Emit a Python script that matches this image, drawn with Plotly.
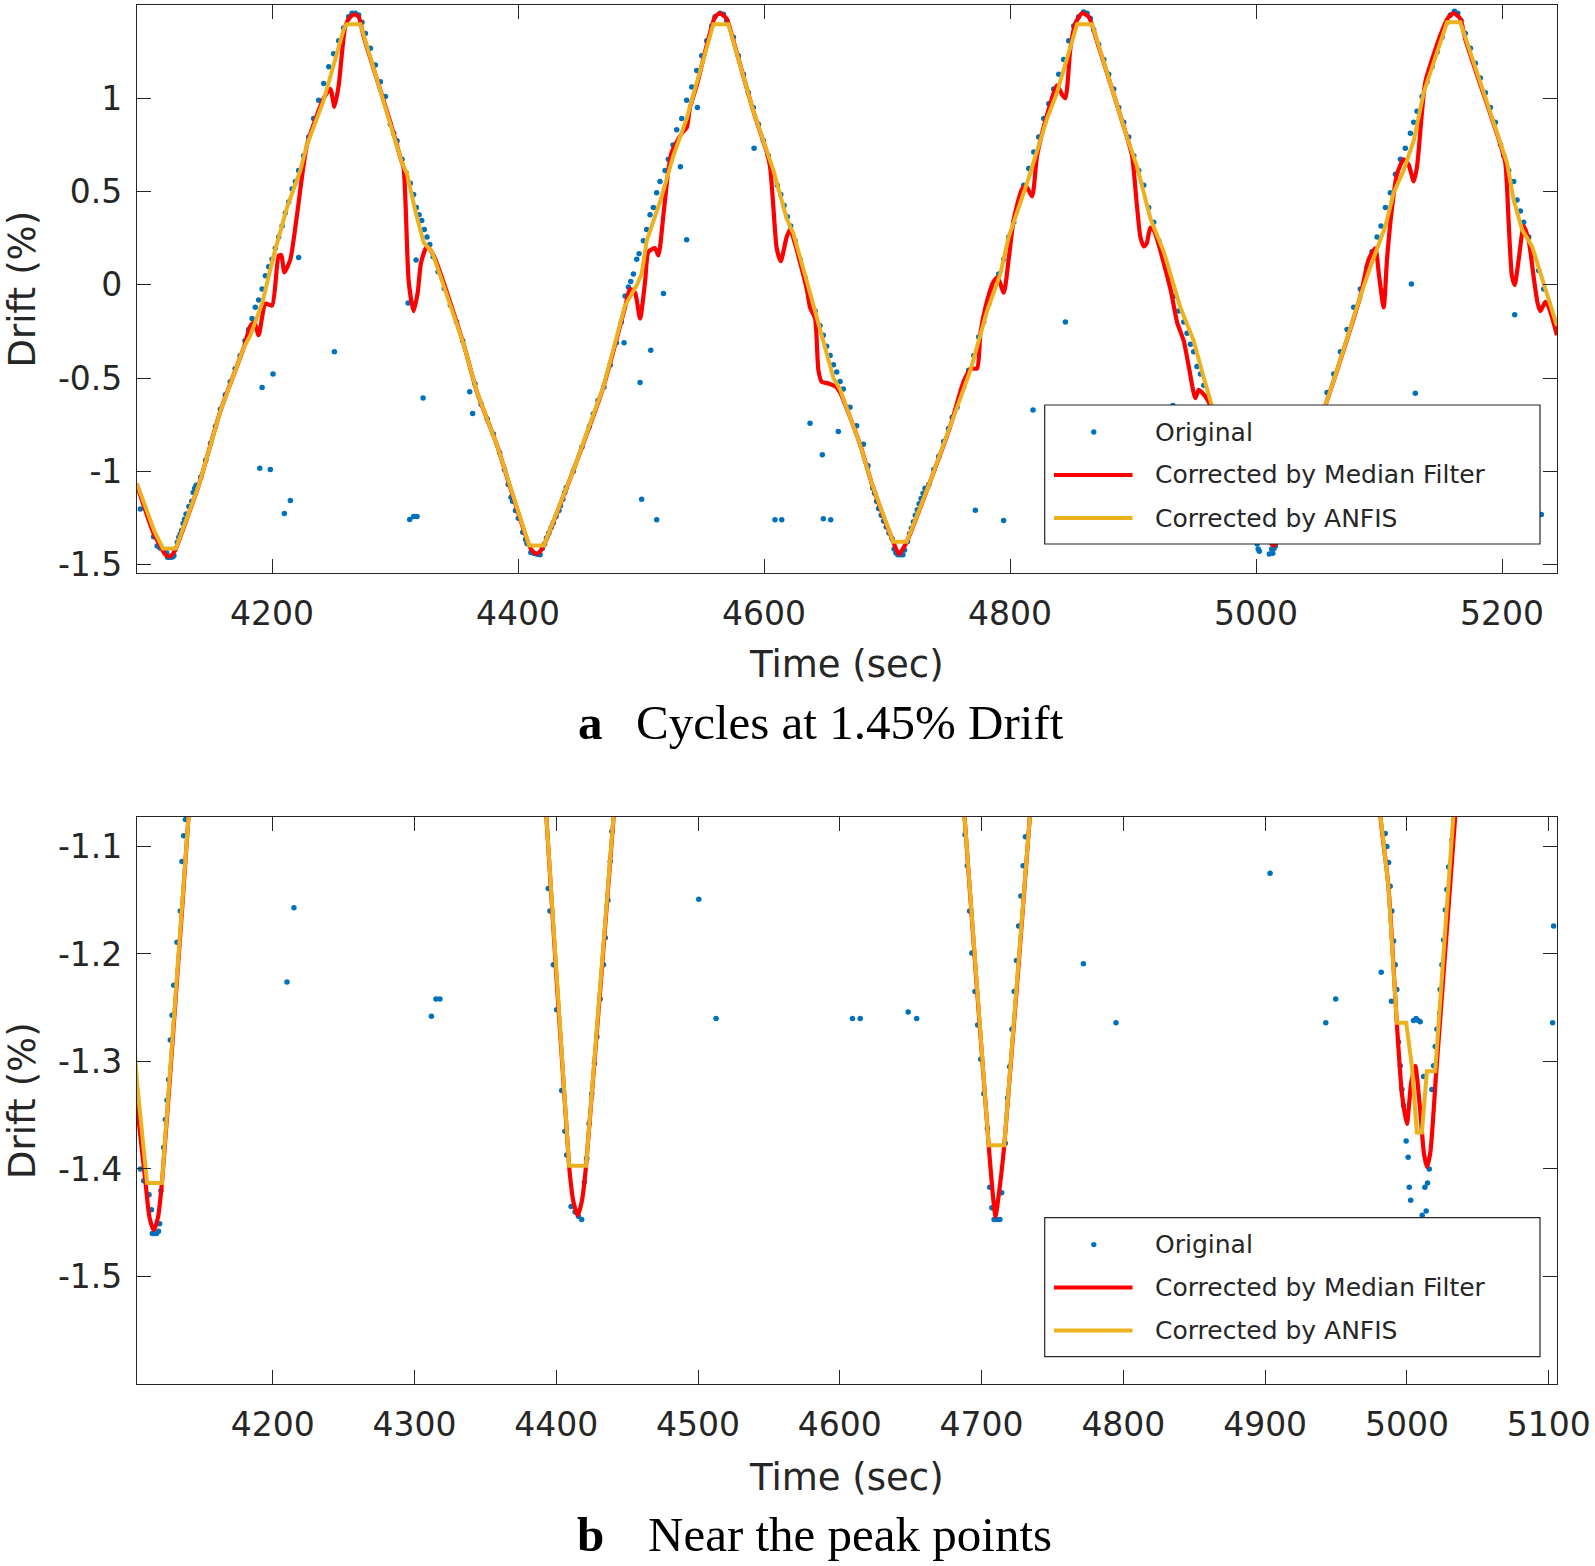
import plotly.graph_objects as go

# ---------------- data ----------------
# Original measured drift (time s, drift %)
original_points = [
    (4092.9, -1.202), (4103.7, -1.35), (4106.6, -1.40), (4108.9, -1.411), (4112.7, -1.424),
    (4114.4, -1.438), (4115.0, -1.46), (4116.5, -1.46), (4118.0, -1.46), (4119.4, -1.458),
    (4120.2, -1.451), (4121.1, -1.42), (4123.0, -1.38), (4124.2, -1.354), (4125.4, -1.336),
    (4126.5, -1.317), (4127.7, -1.28), (4128.9, -1.257), (4130.1, -1.229), (4132.4, -1.189),
    (4134.7, -1.16), (4135.9, -1.114), (4137.1, -1.09), (4138.3, -1.075), (4142, -1.03),
    (4146, -0.94), (4150, -0.85), (4154, -0.76), (4158, -0.667), (4162, -0.59), (4166, -0.52),
    (4170, -0.45), (4174, -0.38), (4178, -0.30), (4181, -0.24), (4183.7, -0.181),
    (4186.4, -0.121), (4189.1, -0.081), (4190.0, -0.984), (4191.9, -0.022), (4191.9, -0.550),
    (4194.6, 0.048), (4197.3, 0.097), (4198.6, -0.990), (4200.0, 0.137), (4200.8, -0.478),
    (4202.7, 0.196), (4205.4, 0.256), (4208.2, 0.315), (4210.0, -1.226), (4210.8, 0.385),
    (4213.5, 0.444), (4214.9, -1.157), (4216.3, 0.514), (4219.0, 0.554), (4221.6, 0.613),
    (4221.6, 0.147), (4225.7, 0.692), (4229.8, 0.792), (4233.8, 0.891), (4237.9, 0.990),
    (4242.0, 1.079), (4246.1, 1.169), (4250.1, 1.238), (4250.7, -0.359), (4254.2, 1.308),
    (4258.2, 1.377), (4262.3, 1.437), (4265.0, 1.456), (4267.7, 1.456), (4270.4, 1.446),
    (4273.1, 1.407), (4275.9, 1.347), (4280.0, 1.268), (4284.0, 1.179), (4288.1, 1.089),
    (4292.2, 1.01), (4296.2, 0.861), (4298.9, 0.812), (4301.6, 0.772), (4305.7, 0.673),
    (4309.0, 0.60), (4310.6, -0.097), (4311.9, -1.258), (4312.4, 0.544), (4315.1, 0.484),
    (4315.1, -1.242), (4317.1, 0.133), (4317.3, 0.415), (4317.9, -1.242), (4319.5, 0.375),
    (4321.7, 0.345), (4322.8, -0.607), (4323.8, 0.296), (4326.0, 0.256), (4328.2, 0.216),
    (4331, 0.15), (4335, 0.07), (4340, -0.02), (4345, -0.11), (4350, -0.20), (4355, -0.30),
    (4360.7, -0.573), (4363.1, -0.690), (4365, -0.53), (4370, -0.64), (4375, -0.72),
    (4380, -0.80), (4385, -0.90), (4389, -0.99), (4392, -1.07), (4394.3, -1.139),
    (4395.5, -1.160), (4397.9, -1.210), (4400.2, -1.252), (4403.8, -1.327), (4406.1, -1.365),
    (4407.3, -1.387), (4410.4, -1.435), (4413.2, -1.440), (4415.6, -1.444), (4417.9, -1.447),
    (4419.8, -1.412), (4421.5, -1.39), (4423.1, -1.358), (4425.0, -1.33), (4426.9, -1.302),
    (4428.6, -1.277), (4430.9, -1.242), (4433.3, -1.21), (4434.5, -1.185), (4436.4, -1.15),
    (4438.0, -1.114), (4439.2, -1.086), (4445, -1.0), (4452, -0.87), (4458, -0.76),
    (4461.2, -0.692), (4465, -0.62), (4469.9, -0.548), (4475, -0.43), (4480, -0.31),
    (4484, -0.2), (4486.2, -0.310), (4487.0, -0.06), (4489.7, -0.012), (4491.6, 0.018),
    (4493.8, 0.058), (4496.5, 0.137), (4498.4, 0.167), (4499.2, -0.524), (4500.5, -1.149),
    (4501.9, 0.236), (4504.6, 0.296), (4507.3, 0.375), (4507.9, -0.351), (4510.0, 0.415),
    (4512.7, 0.494), (4512.7, -1.260), (4515.4, 0.554), (4518.2, -0.046), (4519.5, 0.613),
    (4522.2, 0.673), (4526.0, 0.75), (4529.0, 0.831), (4532.0, 0.633), (4533.1, 0.891),
    (4537.1, 0.990), (4537.1, 0.242), (4541.2, 1.06), (4545.3, 1.149), (4545.8, 0.950),
    (4549.3, 1.228), (4553.4, 1.308), (4557.5, 1.387), (4560.2, 1.437), (4564.2, 1.456),
    (4566.9, 1.45), (4569.6, 1.417), (4575.1, 1.327), (4579.1, 1.228), (4583.2, 1.129),
    (4587.3, 1.03), (4591.3, 0.95), (4591.9, 0.732), (4595.4, 0.861), (4599.5, 0.772),
    (4603.5, 0.692), (4607.6, 0.593), (4608.9, -1.260), (4610.8, 0.534), (4613.6, 0.484),
    (4614.4, -1.260), (4616.3, 0.425), (4619.0, 0.365), (4621.7, 0.315), (4625.2, 0.236),
    (4629.3, 0.137), (4633.4, 0.038), (4637.4, -0.062), (4637.4, -0.742), (4641.5, -0.141),
    (4645.5, -0.22), (4647.4, -0.911), (4648.2, -0.27), (4648.2, -1.254), (4650.9, -0.329),
    (4653.7, -0.379), (4654.2, -1.260), (4656.4, -0.429), (4659.1, -0.468), (4660.4, -0.786),
    (4661.8, -0.518), (4664.5, -0.558), (4669.9, -0.657), (4675.3, -0.756), (4680.8, -0.855),
    (4684.5, -0.97), (4688.3, -1.089), (4689.9, -1.118), (4691.5, -1.16), (4693.1, -1.199),
    (4695.3, -1.235), (4697.2, -1.266), (4699.4, -1.298), (4701.6, -1.33), (4704.1, -1.362),
    (4705.7, -1.417), (4707.2, -1.436), (4708.8, -1.447), (4711.0, -1.447), (4712.9, -1.447),
    (4714.2, -1.422), (4716.7, -1.376), (4718.3, -1.334), (4719.8, -1.305), (4721.4, -1.27),
    (4723.0, -1.235), (4724.6, -1.206), (4726.1, -1.174), (4727.7, -1.146), (4729.3, -1.118),
    (4730.9, -1.091), (4734, -1.07), (4738, -0.99), (4742, -0.92), (4746, -0.84), (4750, -0.77),
    (4753, -0.71), (4756.9, -0.657), (4762.3, -0.548), (4766.4, -0.458), (4770.5, -0.379),
    (4771.8, -1.209), (4774.5, -0.28), (4778.6, -0.2), (4782.7, -0.101), (4786.7, -0.022),
    (4790.8, 0.058), (4794.8, -1.264), (4794.9, 0.137), (4798.9, 0.256), (4803.0, 0.335),
    (4807.1, 0.435), (4811.1, 0.534), (4815.2, 0.623), (4818.7, -0.671), (4819.3, 0.712),
    (4823.3, 0.792), (4827.4, 0.891), (4831.5, 0.970), (4835.5, 1.05), (4839.6, 1.129),
    (4843.6, 1.208), (4845.0, -0.2), (4847.7, 1.308), (4851.8, 1.387), (4855.8, 1.437),
    (4859.9, 1.462), (4862.6, 1.456), (4865.3, 1.427), (4868.0, 1.367), (4872.1, 1.288),
    (4876.2, 1.208), (4880.2, 1.129), (4884.3, 1.05), (4888.4, 0.950), (4892.4, 0.871),
    (4896.5, 0.792), (4900.6, 0.692), (4903.5, -1.125), (4904.6, 0.613), (4908.7, 0.534),
    (4912.7, 0.415), (4916.8, 0.335), (4920.9, 0.236), (4924.9, 0.137), (4929.0, 0.038),
    (4932.5, -0.647), (4933.1, -0.062), (4937.1, -0.141), (4941.2, -0.2), (4942.8, -1.264),
    (4943.9, -0.26), (4946.6, -0.319), (4949.3, -0.359), (4949.8, -1.242), (4952.0, -0.438),
    (4954.8, -0.478), (4957.5, -0.538), (4960.2, -0.597), (4962.9, -0.657), (4967, -0.74),
    (4972, -0.85), (4977, -0.96), (4981.9, -1.217), (4984.7, -1.088), (4985.9, -1.1),
    (4987.1, -1.115), (4988.2, -1.137), (4989.1, -1.244), (4989.4, -1.16), (4990.6, -1.188),
    (4991.8, -1.21), (4992.9, -1.233), (4994.1, -1.282), (4995.3, -1.304), (4996.5, -1.326),
    (4997.6, -1.341), (4999.5, -1.374), (5000.9, -1.389), (5001.7, -1.417), (5002.7, -1.429),
    (5004.7, -1.262), (5006.5, -1.260), (5008.0, -1.262), (5009.4, -1.263), (5010.8, -1.443),
    (5011.8, -1.314), (5012.7, -1.417), (5013.6, -1.439), (5014.6, -1.413), (5015.8, -1.40),
    (5017.6, -1.326), (5018.8, -1.304), (5020.0, -1.286), (5021.2, -1.27), (5023.1, -1.255),
    (5023.5, -1.233), (5024.7, -1.21), (5025.9, -1.187), (5027.1, -1.159), (5028.2, -1.14),
    (5029.4, -1.119), (5031.8, -1.094), (5032.9, -1.075), (5036, -1.03), (5040, -0.96),
    (5044, -0.88), (5048, -0.80), (5052, -0.72), (5057.7, -0.577), (5063.2, -0.478),
    (5068.6, -0.359), (5074.0, -0.240), (5079.4, -0.121), (5084.8, -0.022), (5090.3, 0.097),
    (5094.3, 0.177), (5098.4, 0.256), (5101.6, 0.315), (5102.8, -1.264), (5103.5, -1.174),
    (5105.2, 0.415), (5109.2, 0.494), (5113.3, 0.593), (5117.4, 0.673), (5121.4, 0.732),
    (5125.5, 0.812), (5126.3, 0.004), (5128.2, 0.871), (5129.5, -0.581), (5130.9, 0.931),
    (5135.0, 1.01), (5139.0, 1.089), (5143.1, 1.169), (5147.2, 1.248), (5151.2, 1.327),
    (5155.3, 1.407), (5158.0, 1.446), (5161.3, 1.466), (5164.0, 1.456), (5166.7, 1.417),
    (5170.2, 1.347), (5174.3, 1.268), (5178.3, 1.188), (5182.4, 1.109), (5186.5, 1.03),
    (5190.5, 0.95), (5194.6, 0.871), (5198.7, 0.752), (5201.4, 0.692), (5205.4, 0.613),
    (5209.5, 0.554), (5210.3, -0.161), (5212.2, 0.454), (5214.9, 0.395), (5217.6, 0.335),
    (5221.7, 0.256), (5225.8, 0.157), (5229.8, 0.077), (5232.0, -1.232), (5233.9, -0.022),
    (5238.0, -0.101), (5242.0, -0.181), (5245.0, -0.24),
]

# Drift corrected by median filter (time s, drift %)
median_points = [
    (4090, -1.07), (4103.5, -1.33), (4110, -1.41), (4113, -1.445), (4116, -1.457),
    (4119, -1.445), (4122, -1.41), (4131, -1.25), (4140.5, -1.073), (4158, -0.677),
    (4176.9, -0.339), (4182.4, -0.22), (4185.6, -0.20), (4189.1, -0.27), (4194.6, -0.101),
    (4200, -0.111), (4205.4, 0.157), (4207.5, 0.16), (4210, 0.067), (4214.9, 0.137),
    (4220.3, 0.375), (4228.5, 0.752), (4242, 1.0), (4247.4, 1.05), (4250.7, 0.954),
    (4254.2, 1.07), (4259.6, 1.387), (4263.7, 1.437), (4266.9, 1.45), (4270.4, 1.437),
    (4274.5, 1.33), (4296.2, 0.871), (4304.3, 0.683), (4307, 0.623), (4311.1, 0.018),
    (4315.1, -0.141), (4318.4, -0.042), (4321.1, 0.117), (4326, 0.206), (4331.4, 0.157),
    (4355.8, -0.319), (4366.7, -0.577), (4382.9, -0.86), (4393, -1.073), (4409, -1.397),
    (4412, -1.43), (4415.1, -1.443), (4418, -1.43), (4421, -1.397), (4440.4, -1.073),
    (4445, -0.994), (4469.4, -0.548), (4487, -0.121), (4491, -0.022), (4495.1, -0.042),
    (4499.2, -0.181), (4503.3, 0.018), (4506, 0.177), (4511.4, 0.196), (4514.1, 0.157),
    (4518.2, 0.375), (4522.2, 0.613), (4525, 0.712), (4533.1, 0.812), (4537.1, 0.841),
    (4539.8, 0.950), (4545.3, 1.069), (4560.2, 1.437), (4564.2, 1.456), (4569.6, 1.427),
    (4575, 1.31), (4591.3, 0.931), (4602.2, 0.712), (4604.9, 0.633), (4607.6, 0.415),
    (4610.3, 0.196), (4613.6, 0.127), (4618.4, 0.256), (4621.1, 0.296), (4634.7, -0.022),
    (4637.4, -0.121), (4641.5, -0.181), (4644.2, -0.458), (4646.9, -0.52), (4653, -0.53),
    (4658, -0.545), (4661.8, -0.577), (4678, -0.855), (4688, -1.073), (4705, -1.378),
    (4708, -1.425), (4709.8, -1.444), (4712, -1.425), (4716, -1.378), (4734, -1.073),
    (4751.5, -0.756), (4762.3, -0.518), (4768, -0.45), (4773.2, -0.448), (4775.9, -0.26),
    (4780, -0.121), (4786.7, 0.018), (4790, 0.04), (4794.9, -0.042), (4798.9, 0.137),
    (4803, 0.35), (4809.8, 0.514), (4813, 0.53), (4817.9, 0.474), (4822, 0.692),
    (4830.1, 0.911), (4838.2, 1.069), (4842.3, 1.02), (4845, 1.0), (4849.1, 1.268),
    (4853, 1.40), (4858.5, 1.456), (4864, 1.437), (4870, 1.32), (4895.1, 0.792),
    (4899.2, 0.692), (4903.3, 0.415), (4906, 0.256), (4908.7, 0.206), (4911, 0.22),
    (4914.1, 0.306), (4917, 0.29), (4930.4, -0.022), (4935.8, -0.2), (4941.2, -0.3),
    (4945.3, -0.438), (4950.6, -0.608), (4953.4, -0.563), (4958.8, -0.599), (4963, -0.65),
    (4981.2, -1.07), (4987, -1.137), (4992.9, -1.264), (4996.5, -1.33), (5000, -1.358),
    (5003, -1.32), (5005.9, -1.304), (5009, -1.34), (5012, -1.385), (5014.1, -1.398),
    (5016.5, -1.385), (5020.7, -1.31), (5034.1, -1.072), (5056.4, -0.647), (5065.9, -0.458),
    (5084.8, -0.062), (5091.6, 0.137), (5097, 0.196), (5100, 0.05), (5103.8, -0.121),
    (5106.5, 0.137), (5110.6, 0.415), (5114.6, 0.593), (5120, 0.673), (5124.1, 0.643),
    (5128.2, 0.554), (5130.9, 0.633), (5135, 0.931), (5137.7, 1.089), (5150, 1.34),
    (5156, 1.43), (5160.7, 1.456), (5166.1, 1.427), (5170, 1.32), (5198.7, 0.752),
    (5202.7, 0.653), (5205.4, 0.335), (5208, 0.05), (5210.3, -0.002), (5213.6, 0.137),
    (5217.6, 0.315), (5221.7, 0.236), (5225.8, 0.038), (5229, -0.10), (5231.2, -0.141),
    (5235.2, -0.091), (5238, -0.12), (5244.7, -0.27),
]

# Drift corrected by ANFIS (time s, drift %)
anfis_points = [
    (4090, -1.063), (4104.2, -1.319), (4111.3, -1.413), (4121.8, -1.413), (4140.5, -1.073),
    (4158, -0.677), (4176.9, -0.339), (4182.4, -0.270), (4191.9, -0.101), (4201.3, 0.157),
    (4212.2, 0.415), (4223, 0.613), (4228.5, 0.752), (4242, 0.990), (4258.2, 1.367),
    (4260.4, 1.397), (4271.8, 1.397), (4296.2, 0.871), (4305.7, 0.653), (4309.8, 0.593),
    (4316.5, 0.395), (4323.3, 0.226), (4330.1, 0.177), (4355.8, -0.319), (4366.7, -0.577),
    (4382.9, -0.86), (4393, -1.073), (4409, -1.397), (4421, -1.397), (4440.4, -1.073),
    (4445, -0.994), (4469.4, -0.548), (4487, -0.111), (4496.5, -0.002), (4500.5, 0.058),
    (4504.6, 0.236), (4508.7, 0.315), (4515.4, 0.444), (4526.3, 0.692), (4537.1, 0.891),
    (4558.8, 1.397), (4571, 1.397), (4591.3, 0.931), (4607.6, 0.613), (4618.4, 0.355),
    (4623.8, 0.276), (4634.7, 0.02), (4642.8, -0.18), (4650.9, -0.36), (4656.4, -0.50),
    (4661.8, -0.56), (4678, -0.855), (4688, -1.073), (4705, -1.378), (4716, -1.378),
    (4734, -1.073), (4751.5, -0.756), (4767.8, -0.458), (4781.3, -0.141), (4792.1, 0.058),
    (4798.9, 0.256), (4808.4, 0.444), (4815.2, 0.573), (4830.1, 0.891), (4838.2, 1.03),
    (4854.5, 1.397), (4866.7, 1.397), (4895.1, 0.792), (4903.3, 0.633), (4914.1, 0.355),
    (4925, 0.177), (4938.5, -0.121), (4949.3, -0.30), (4957.5, -0.498), (4964.2, -0.65),
    (4981.2, -1.07), (4987, -1.137), (4992.9, -1.264), (4999.5, -1.264), (5003.5, -1.304),
    (5007, -1.366), (5010.6, -1.366), (5014.1, -1.309), (5020, -1.309), (5034.1, -1.072),
    (5056.4, -0.647), (5065.9, -0.458), (5084.8, -0.062), (5093, 0.097), (5105.2, 0.315),
    (5111.9, 0.494), (5120, 0.613), (5128.2, 0.772), (5136.3, 1.03), (5155.3, 1.407),
    (5166.1, 1.407), (5198.7, 0.752), (5204.1, 0.653), (5209.5, 0.454), (5216.3, 0.296),
    (5224.4, 0.206), (5244.7, -0.220),
]

series_names = ["Original", "Corrected by Median Filter", "Corrected by ANFIS"]

top_xticks = [4200, 4400, 4600, 4800, 5000, 5200]
top_yticks = [-1.5, -1, -0.5, 0, 0.5, 1]
top_yticktext = ["-1.5", "-1", "-0.5", "0", "0.5", "1"]
bottom_xticks = [4200, 4300, 4400, 4500, 4600, 4700, 4800, 4900, 5000, 5100]
bottom_yticks = [-1.5, -1.4, -1.3, -1.2, -1.1]
bottom_yticktext = ["-1.5", "-1.4", "-1.3", "-1.2", "-1.1"]

top_xrange = [4090.2, 5244.7]
top_yrange = [-1.545, 1.50]
bottom_xrange = [4104.2, 5105.9]
bottom_yrange = [-1.600, -1.0726]

x_title = "Time (sec)"
y_title = "Drift (%)"
caption_labels = ["a", "b"]
caption_texts = ["Cycles at 1.45% Drift", "Near the peak points"]

# ---------------- figure ----------------
W, H = 1595, 1566
def fx(p):
    return p / W
def fy(p):
    return 1 - p / H

BLUE, RED, YELLOW = "#0072BD", "#FF0000", "#EDB120"
AX = "#262626"
SANS = "DejaVu Sans"
SERIF = "Liberation Serif"

orig_t = [p[0] for p in original_points]
orig_d = [p[1] for p in original_points]
med_t = [p[0] for p in median_points]
med_d = [p[1] for p in median_points]
anf_t = [p[0] for p in anfis_points]
anf_d = [p[1] for p in anfis_points]

fig = go.Figure()
for xa, ya in (("x", "y"), ("x2", "y2")):
    fig.add_trace(go.Scatter(x=orig_t, y=orig_d, mode="markers", name=series_names[0],
                             marker=dict(size=5.5, color=BLUE), xaxis=xa, yaxis=ya,
                             showlegend=False))
    fig.add_trace(go.Scatter(x=med_t, y=med_d, mode="lines", name=series_names[1],
                             line=dict(color=RED, width=4.2, shape="spline", smoothing=0.6),
                             xaxis=xa, yaxis=ya, showlegend=False))
    fig.add_trace(go.Scatter(x=anf_t, y=anf_d, mode="lines", name=series_names[2],
                             line=dict(color=YELLOW, width=4), xaxis=xa, yaxis=ya,
                             showlegend=False))

panel_top = (5, 573)
panel_bot = (817, 1384)
left_px, right_px = 137, 1557

def axis_common():
    return dict(showline=True, linecolor=AX, linewidth=1.2, mirror="ticks",
                ticks="inside", ticklen=14, tickwidth=1.2, tickcolor=AX,
                showgrid=False, zeroline=False, automargin=False,
                tickfont=dict(family=SANS, size=33, color=AX))

fig.update_layout(
    template="none",
    width=W, height=H, margin=dict(l=0, r=0, t=0, b=0, pad=0),
    paper_bgcolor="white", plot_bgcolor="white", showlegend=False,
    xaxis=dict(domain=[fx(left_px), fx(right_px)], range=top_xrange, anchor="y",
               tickvals=top_xticks, ticklabelstandoff=11, **axis_common()),
    yaxis=dict(domain=[fy(panel_top[1]), fy(panel_top[0])], range=top_yrange, anchor="x",
               tickvals=top_yticks, ticktext=top_yticktext, ticklabelstandoff=7,
               **axis_common()),
    xaxis2=dict(domain=[fx(left_px), fx(right_px)], range=bottom_xrange, anchor="y2",
                tickvals=bottom_xticks, ticklabelstandoff=11, **axis_common()),
    yaxis2=dict(domain=[fy(panel_bot[1]), fy(panel_bot[0])], range=bottom_yrange, anchor="x2",
                tickvals=bottom_yticks, ticktext=bottom_yticktext, ticklabelstandoff=7,
                **axis_common()),
)

shapes = []
annotations = []

# custom legends (one per panel)
for top in (405, 1217.6):
    shapes.append(dict(type="rect", xref="paper", yref="paper", layer="above",
                       x0=fx(1044.7), x1=fx(1540), y0=fy(top + 139), y1=fy(top),
                       fillcolor="white", line=dict(color=AX, width=1.2)))
    rows = [top + 27, top + 70, top + 113]
    r = 2.7
    shapes.append(dict(type="circle", xref="paper", yref="paper", layer="above",
                       x0=fx(1093.8 - r), x1=fx(1093.8 + r), y0=fy(rows[0] + r), y1=fy(rows[0] - r),
                       fillcolor=BLUE, line=dict(color=BLUE, width=0)))
    shapes.append(dict(type="line", xref="paper", yref="paper", layer="above",
                       x0=fx(1054), x1=fx(1132.5), y0=fy(rows[1]), y1=fy(rows[1]),
                       line=dict(color=RED, width=4)))
    shapes.append(dict(type="line", xref="paper", yref="paper", layer="above",
                       x0=fx(1054), x1=fx(1132.5), y0=fy(rows[2]), y1=fy(rows[2]),
                       line=dict(color=YELLOW, width=4)))
    for name, ry in zip(series_names, rows):
        annotations.append(dict(text=name, xref="paper", yref="paper", x=fx(1152.5), y=fy(ry),
                                xanchor="left", yanchor="middle", showarrow=False,
                                font=dict(family=SANS, size=25, color=AX)))

# axis titles and captions
for (ptop, pbot), xt_y, cap_y, lab, cap in ((panel_top, 664, 722, caption_labels[0], caption_texts[0]),
                                            (panel_bot, 1477, 1534, caption_labels[1], caption_texts[1])):
    annotations.append(dict(text=x_title, xref="paper", yref="paper", x=fx(846.3), y=fy(xt_y),
                            xanchor="center", yanchor="middle", showarrow=False,
                            font=dict(family=SANS, size=37, color=AX)))
    annotations.append(dict(text=y_title, xref="paper", yref="paper", x=fx(22.5),
                            y=fy((ptop + pbot) / 2), xanchor="center", yanchor="middle",
                            textangle=-90, showarrow=False,
                            font=dict(family=SANS, size=37, color=AX)))
    annotations.append(dict(text="<b>" + lab + "</b>", xref="paper", yref="paper", x=fx(590),
                            y=fy(cap_y), xanchor="center", yanchor="middle", showarrow=False,
                            font=dict(family=SERIF, size=49, color="black")))
    annotations.append(dict(text=cap, xref="paper", yref="paper", x=fx(850), y=fy(cap_y),
                            xanchor="center", yanchor="middle", showarrow=False,
                            font=dict(family=SERIF, size=49, color="black")))

fig.update_layout(shapes=shapes, annotations=annotations)
fig.write_html(
    "out.html",
    config={"displayModeBar": False},
    post_script="document.body.style.margin='0px';document.body.style.overflow='hidden';",
)
